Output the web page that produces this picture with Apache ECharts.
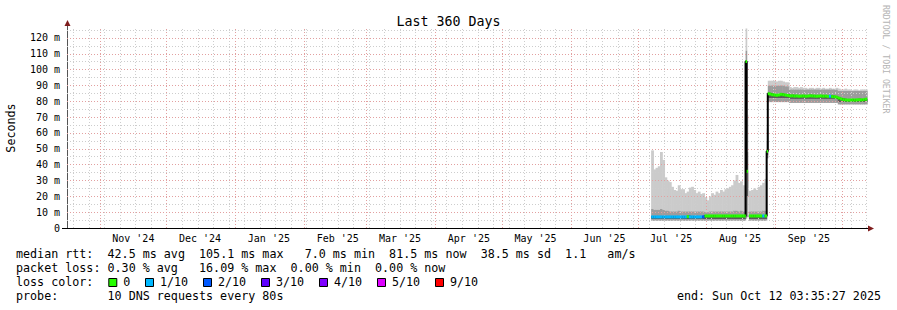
<!DOCTYPE html>
<html>
<head>
<meta charset="utf-8">
<script src="https://cdn.jsdelivr.net/npm/echarts@6.0.0/dist/echarts.min.js"></script>
<style>
html,body{margin:0;padding:0;background:#ffffff;}
#chart{width:897px;height:310px;}
</style>
</head>
<body>
<div id="chart"></div>
<script>
// ---------------- data ----------------
const titleText = 'Last 360 Days';
const graphEndText = '2025-10-12T03:35:27Z';
const graphDays = 360;
const dataYear = 2025;

// bin start times (MM-DD or "MM-DD HH", UTC, 2025)
const binStart = ['07-07','07-08','07-09','07-10','07-11','07-12','07-13','07-14','07-15','07-16',
 '07-17','07-18','07-19','07-20','07-21','07-22','07-23','07-24','07-25','07-26',
 '07-27','07-28','07-29','07-30','07-31','08-01','08-02','08-03','08-04','08-05',
 '08-06','08-07','08-08','08-09','08-10','08-11','08-12','08-13','08-14','08-15',
 '08-16','08-17','08-18',
 '08-18 12','08-19','08-19 12',
 '08-20','08-21','08-22','08-23','08-24','08-25','08-26','08-27',
 '08-28',
 '08-28 12','08-29','08-30','08-31','09-01','09-02','09-03','09-04','09-05','09-06',
 '09-07','09-08','09-09','09-10','09-11','09-12','09-13','09-14','09-15','09-16',
 '09-17','09-18','09-19','09-20','09-21','09-22','09-23','09-24','09-25','09-26',
 '09-27','09-28','09-29','09-30','10-01','10-02','10-03','10-04','10-05','10-06',
 '10-07','10-08','10-09','10-10','10-11','10-12'];

// smoke: highest ping (ms)
const pingMax = [49,37,38,39,48,43,32,30,29,26,
 24,23.5,27,24.5,24.5,22,23,25.5,26,24,
 22,23,21.5,22,19.5,17.5,20,22,21,23,
 22,24,23,24.5,25,26,27,30,33.5,28.5,
 29.5,27,26,
 126,71.5,null,
 23.5,24,25,24,26,27,28.5,31,
 63,
 93,93,93,93,92.5,93,93,92.5,92,92,
 89,88.5,89,89,88.5,89,88.5,88.5,88,88.5,88.5,88,88.5,88.5,88,88.5,88,88,88.5,88,88,88.5,
 88,87.5,87.5,88,87.5,87.5,87,87.5,87.5,87,87.5,87.5,87.5,87.5];

// smoke: upper edge of the dense band (ms)
const pingHighQ = [12,11.5,11.5,11.5,12,11.5,11,11,10.5,10.5,
 10.5,10.5,11,10.5,10.5,10.5,10.5,10.5,10.5,10.5,
 10.5,10.5,10.5,10.5,10,10,10.5,10.5,10.5,10.5,
 10.5,10.5,10.5,10.5,10.5,10.5,10.5,11,11,10.5,
 11,10.5,10.5,
 112,48,null,
 10.5,10.5,10.5,10.5,10.5,10.5,11,11,
 55,
 90,90,90,90,90,90,90,90,89.5,89.5,
 87.5,87.5,87.5,87.5,87.5,87.5,87.5,87.5,87.5,87.5,87.5,87.5,87.5,87.5,87.5,87.5,87.5,87.5,87.5,87.5,87.5,87.5,
 86.5,86.5,86.5,86.5,86.5,86.5,86.5,86.5,86.5,86.5,86.5,86.5,86.5,86.5];

// median rtt (ms)
const median = [7.0,7.0,7.0,7.0,7.0,7.0,7.0,7.0,7.0,7.0,
 7.0,7.0,7.0,7.0,7.0,7.0,7.2,7.0,7.0,7.0,
 7.0,7.0,7.0,7.1,7.6,7.6,7.6,7.6,7.6,7.6,
 7.6,7.6,7.6,7.6,7.6,7.6,7.6,7.6,7.6,7.6,
 7.6,7.6,7.6,
 105.1,35.8,null,
 7.6,7.6,7.6,7.6,7.6,7.6,7.6,7.6,
 48.4,
 84.8,84.6,84.2,84.0,83.8,84.0,84.4,84.2,83.9,83.7,
 83.4,83.5,83.3,83.4,83.2,83.3,83.4,83.2,83.3,83.5,83.4,83.3,83.2,83.3,83.4,83.2,83.3,83.1,83.2,83.0,82.9,82.6,
 82.0,81.5,81.1,80.9,80.8,80.8,80.9,80.8,80.9,81.0,80.9,81.0,81.3,81.5];

// smoke: lower edge of the dense band (ms)
const pingLowQ = [5.6,5.6,5.6,5.6,5.6,5.6,5.6,5.6,5.6,5.6,
 5.6,5.6,5.6,5.6,5.6,5.6,5.6,5.6,5.6,5.6,
 5.6,5.6,5.6,5.6,5.6,5.6,5.6,5.6,5.6,5.6,
 5.6,5.6,5.6,5.6,5.6,5.6,5.6,5.6,5.6,5.6,
 5.6,5.6,5.6,
 7,20,null,
 5.6,5.6,5.6,5.6,5.6,5.6,5.6,5.6,
 46,
 82,82,82,82,82,82,82,82,82,82,
 81.5,81.5,81.5,81.5,81.5,81.5,81.5,81.5,81.5,81.5,81.5,81.5,81.5,81.5,81.5,81.5,81.5,81.5,81.5,81.5,81.5,81.5,
 79.5,79.5,79.5,79.5,79.5,79.5,79.5,79.5,79.5,79.5,79.5,79.5,79.5,79.5];

// smoke: lowest ping (ms)
const pingMin = [4.6,4.6,4.6,4.6,4.6,4.6,4.6,4.6,4.6,4.6,
 4.6,4.6,4.6,4.6,4.6,4.6,4.6,4.6,4.6,4.6,
 4.6,4.6,4.6,4.6,4.6,4.6,4.6,4.6,4.6,4.6,
 4.6,4.6,4.6,4.6,4.6,4.6,4.6,4.6,4.6,4.6,
 4.6,4.6,4.6,
 6,7,null,
 4.6,4.6,4.6,4.6,4.6,4.6,4.6,4.6,
 44,
 79.5,79.5,79.5,79.5,79.5,79.5,79.5,79.5,79.5,79.5,
 79,79,79,79,79,79,79,79,79,79,79,79,79,79,79,79,79,79,79,79,79,79,
 78,78,78,78,78,78,78,78,78,78,78,78,78,78];

// loss colour level (index into lossNames)
const lossLevel = [1,1,1,1,1,1,1,1,1,1,
 1,1,1,1,1,1,0,1,1,1,
 1,1,1,2,0,0,0,0,0,0,
 0,0,0,0,0,0,0,0,0,0,
 0,0,0,
 0,0,null,
 0,0,0,0,0,0,1,0,
 0,
 0,0,0,0,0,0,0,0,0,0,
 0,0,0,0,0,0,0,0,0,0,0,0,0,0,0,0,0,0,1,0,0,0,
 0,0,0,0,0,0,0,0,0,0,0,0,0,0];

const monthTicks = ['2024-11','2024-12','2025-01','2025-02','2025-03','2025-04','2025-05','2025-06','2025-07','2025-08','2025-09'];
const monthNames = ['Jan','Feb','Mar','Apr','May','Jun','Jul','Aug','Sep','Oct','Nov','Dec'];

const lossNames = ['0','1/10','2/10','3/10','4/10','5/10','9/10'];
const lossColors = ['#26ff00','#00b8ff','#0059ff','#5e00ff','#7e00ff','#dd00ff','#ff0000'];

const rttLabel = 'median rtt:';
const rttStats = ['42.5 ms avg','105.1 ms max','7.0 ms min','81.5 ms now','38.5 ms sd','1.1','am/s'];
const lossLabel = 'packet loss:';
const lossStats = ['0.30 % avg','16.09 % max','0.00 % min','0.00 % now'];
const lossColorLabel = 'loss color:';
const probeLabel = 'probe:';
const probeText = '10 DNS requests every 80s';
const endText = 'end: Sun Oct 12 03:35:27 2025';
const watermark = 'RRDTOOL / TOBI OETIKER';
const yName = 'Seconds';

// ---------------- build ----------------
const DAY = 86400000;
const tEnd = Date.parse(graphEndText);
const tStart = tEnd - graphDays * DAY;
const toMs = s => { const p = s.split(' '); const md = p[0].split('-').map(Number); return Date.UTC(dataYear, md[0]-1, md[1], p[1] ? Number(p[1]) : 0); };
const starts = binStart.map(toMs);
const ends = starts.map((t,i) => i + 1 < starts.length ? starts[i+1] : tEnd);
const binData = starts.map((t,i) => median[i] == null
  ? [t, ends[i], '-', '-', '-', '-', '-', '-']
  : [t, ends[i], pingMin[i], pingLowQ[i], median[i], pingHighQ[i], pingMax[i], lossLevel[i]]);
const stepData = starts.map((t,i) => [t, median[i] == null ? '-' : median[i]]);
stepData.push([tEnd, median[median.length-1]]);

const MONO = 'DejaVu Sans Mono';
const MAJOR = '#e2a0a0', MINOR = '#cdcdcd';
const gridLines = [];
for (let v = 5; v <= 125; v += 5) if (v % 10 !== 0) gridLines.push({yAxis: v, lineStyle: {color: MINOR, type: [1,2], width: 1}});
{
  const sd = new Date(tStart);
  let t = Date.UTC(sd.getUTCFullYear(), sd.getUTCMonth(), sd.getUTCDate());
  while (t <= tStart || new Date(t).getUTCDay() !== 0) t += DAY;
  for (; t < tEnd; t += 7*DAY) gridLines.push({xAxis: t, lineStyle: {color: MINOR, type: [1,2], width: 1}});
}
for (let v = 10; v <= 120; v += 10) gridLines.push({yAxis: v, lineStyle: {color: MAJOR, type: [1,2], width: 1}});
{
  let y = new Date(tStart).getUTCFullYear(), m = new Date(tStart).getUTCMonth();
  while (true) {
    const t = Date.UTC(y, m, 1);
    if (t > tEnd) break;
    if (t > tStart) gridLines.push({xAxis: t, lineStyle: {color: MAJOR, type: [1,2], width: 1}});
    m++; if (m > 11) { m = 0; y++; }
  }
}
const labelVals = monthTicks.map(s => { const p = s.split('-').map(Number); return Date.UTC(p[0], p[1]-1, 16); });

function renderSmoke(params, api) {
  const md = api.value(4);
  if (isNaN(md)) return null;
  const t0 = api.value(0), t1 = api.value(1);
  const band = (a, b, fill) => {
    const p0 = api.coord([t0, b]), p1 = api.coord([t1, a]);
    return {type: 'rect', shape: {x: p0[0], y: p0[1], width: p1[0]-p0[0]+0.6, height: p1[1]-p0[1]}, style: {fill: fill}};
  };
  return {type: 'group', children: [
    band(api.value(5), api.value(6), '#cbcbcb'),
    band(api.value(4), api.value(5), '#9c9c9c'),
    band(api.value(3), api.value(4), '#5a5a5a'),
    band(api.value(2), api.value(3), '#9c9c9c')
  ]};
}
function renderMedian(params, api) {
  const md = api.value(4);
  if (isNaN(md)) return null;
  const p0 = api.coord([api.value(0), md]), p1 = api.coord([api.value(1), md]);
  return {type: 'rect', shape: {x: p0[0], y: p0[1]-1.5, width: p1[0]-p0[0]+0.3, height: 3}, style: {fill: lossColors[api.value(7)]}};
}

// text rows
const X0 = 16, CW = 7.04, FS = 11.7;
const rows = [254.3, 268.3, 282.3, 296.3];
const txt = (x, y, s, align) => ({type: 'text', x: x, y: y, silent: true,
  style: {text: s, fill: '#000', fontFamily: MONO, fontSize: FS, align: align || 'left', verticalAlign: 'middle', textAlign: align || 'left', textVerticalAlign: 'middle'}});
const col = c => X0 + c * CW;
const graphics = [];
graphics.push(txt(col(0), rows[0], rttLabel));
[13,26,41,53,66,78,84].forEach((c,i) => graphics.push(txt(col(c), rows[0], rttStats[i])));
graphics.push(txt(col(0), rows[1], lossLabel));
[13,26,39,51].forEach((c,i) => graphics.push(txt(col(c), rows[1], lossStats[i])));
graphics.push(txt(col(0), rows[2], lossColorLabel));
const lossLabelX = [123.3, 160, 218, 276, 334, 392, 450];
lossNames.forEach((n,i) => {
  graphics.push({type: 'rect', silent: true, shape: {x: lossLabelX[i]-14.5, y: 278.5, width: 8, height: 8}, style: {fill: lossColors[i], stroke: '#000', lineWidth: 1}});
  graphics.push(txt(lossLabelX[i], rows[2], n));
});
graphics.push(txt(col(0), rows[3], probeLabel));
graphics.push(txt(col(13), rows[3], probeText));
graphics.push(txt(881, rows[3], endText, 'right'));
graphics.push({type: 'text', x: 886, y: 5, rotation: -Math.PI/2, silent: true,
  style: {text: watermark, fill: '#b4b4b4', fontFamily: MONO, fontSize: 8.2, align: 'left', verticalAlign: 'middle', textAlign: 'left', textVerticalAlign: 'middle'}});
// axis extensions and arrows
graphics.push({type: 'line', silent: true, shape: {x1: 62, y1: 228.5, x2: 67, y2: 228.5}, style: {stroke: '#000', lineWidth: 1}});
graphics.push({type: 'line', silent: true, shape: {x1: 867, y1: 228.5, x2: 869, y2: 228.5}, style: {stroke: '#000', lineWidth: 1}});
graphics.push({type: 'line', silent: true, shape: {x1: 67.5, y1: 28, x2: 67.5, y2: 25}, style: {stroke: '#555', lineWidth: 1}});
graphics.push({type: 'polygon', silent: true, shape: {points: [[67.5,20],[64.5,26],[70.5,26]]}, style: {fill: '#7f1d1d'}});
graphics.push({type: 'polygon', silent: true, shape: {points: [[874,228.5],[868,225.5],[868,231.5]]}, style: {fill: '#7f1d1d'}});

const chart = echarts.init(document.getElementById('chart'), null, {renderer: 'svg', width: 897, height: 310});
chart.setOption({
  animation: false,
  backgroundColor: '#ffffff',
  title: {text: titleText, left: 'center', top: 10,
    textStyle: {fontFamily: MONO, fontSize: 13.3, fontWeight: 'normal', color: '#000'}},
  grid: {left: 67, right: 30, top: 28, bottom: 82, containLabel: false, outerBoundsMode: 'none'},
  xAxis: {
    type: 'value', min: tStart, max: tEnd,
    axisLine: {show: true, onZero: false, lineStyle: {color: '#000', width: 1}},
    axisTick: {show: false}, splitLine: {show: false},
    axisLabel: {customValues: labelVals, hideOverlap: false,
      formatter: v => { const d = new Date(v); return monthNames[d.getUTCMonth()] + " '" + String(d.getUTCFullYear()).slice(2); },
      fontFamily: MONO, fontSize: 10, color: '#000', margin: 5}
  },
  yAxis: {
    type: 'value', min: 0, max: 126.3, interval: 10,
    name: yName, nameLocation: 'middle', nameGap: 50, nameRotate: 90,
    nameTextStyle: {fontFamily: MONO, fontSize: FS, color: '#000'},
    axisLine: {show: true, lineStyle: {color: '#555', width: 1}},
    axisTick: {show: false}, splitLine: {show: false},
    axisLabel: {fontFamily: MONO, fontSize: 10, color: '#000', margin: 7,
      formatter: v => { const r = Math.round(v/10)*10; if (Math.abs(v - r) > 1e-6) return ''; return r === 0 ? '0' : r + ' m'; }}
  },
  series: [
    {type: 'custom', name: 'smoke', data: binData, renderItem: renderSmoke, z: 1, silent: true,
      encode: {x: [0,1], y: [2,3,4,5,6]}},
    {type: 'line', name: 'grid', data: [], z: 2, silent: true,
      markLine: {silent: true, symbol: ['none','none'], label: {show: false}, animation: false, data: gridLines}},
    {type: 'line', name: 'median step', data: stepData, step: 'end', symbol: 'none', showSymbol: false,
      lineStyle: {color: '#000', width: 2}, z: 6, silent: true, connectNulls: false},
    {type: 'custom', name: 'median', data: binData, renderItem: renderMedian, z: 7, silent: true,
      encode: {x: [0,1], y: [4]}}
  ],
  graphic: {elements: graphics}
});
</script>
</body>
</html>
